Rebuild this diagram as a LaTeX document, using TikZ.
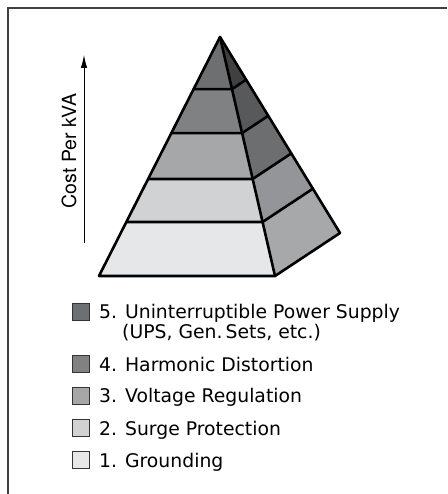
\documentclass[tikz,border=0pt]{standalone}
\usepackage{fontspec}
\setmainfont{TeX Gyre Heros}
\newfontfamily\keyfont{DejaVu Sans}
\usetikzlibrary{arrows.meta, positioning, calc}

\definecolor{tierfive}{RGB}{110,111,113}
\definecolor{tierfour}{RGB}{128,129,131}
\definecolor{tierthree}{RGB}{166,167,169}
\definecolor{tiertwo}{RGB}{209,210,212}
\definecolor{tierone}{RGB}{230,231,232}
\definecolor{sidefive}{RGB}{64,64,65}
\definecolor{sidefour}{RGB}{88,89,91}
\definecolor{sidethree}{RGB}{109,110,112}
\definecolor{sidetwo}{RGB}{147,149,152}
\definecolor{sideone}{RGB}{166,168,170}

\begin{document}
\begin{tikzpicture}[
    x=1pt, y=-1pt,
    pedge/.style={line width=2.6pt, line join=round, line cap=round},
    keybox/.style={draw=black!80, line width=0.9pt, minimum size=17pt, inner sep=0pt, anchor=south west},
    keytext/.style={font=\keyfont\fontsize{18.8}{21}\selectfont, anchor=base west, inner sep=0pt},
    costarrow/.style={-{Latex[length=13pt, width=6.5pt]}, line width=0.9pt}
]
\useasboundingbox (0,0) rectangle (447,494);
\draw[line width=2pt, black!75] (8,494) -- (8,8) -- (447,8);

% pyramid corners
\coordinate (apex) at (220,37);
\coordinate (fl) at (99,276);
\coordinate (fr) at (275,276);
\coordinate (bk) at (340,233);

% tiers, top to bottom
\foreach \a/\b/\fc/\sc in {0/0.218/tierfive/sidefive, 0.218/0.402/tierfour/sidefour,
    0.402/0.594/tierthree/sidethree, 0.594/0.774/tiertwo/sidetwo, 0.774/1/tierone/sideone} {
  \fill[\fc] ($(apex)!\a!(fl)$) -- ($(apex)!\b!(fl)$) -- ($(apex)!\b!(fr)$) -- ($(apex)!\a!(fr)$) -- cycle;
  \fill[\sc] ($(apex)!\a!(fr)$) -- ($(apex)!\b!(fr)$) -- ($(apex)!\b!(bk)$) -- ($(apex)!\a!(bk)$) -- cycle;
}
\foreach \t in {0.218, 0.402, 0.594, 0.774} {
  \draw[pedge] ($(apex)!\t!(fl)$) -- ($(apex)!\t!(fr)$) -- ($(apex)!\t!(bk)$);
}
\draw[pedge] (apex) -- (fl) -- (fr) -- (bk) -- cycle;
\draw[pedge] (apex) -- (fr);

% cost axis
\coordinate (costlow) at (84,243);
\coordinate (costhigh) at (84,55);
\draw[costarrow] (costlow) -- (costhigh);
\node[rotate=90, anchor=base, inner sep=0pt, font=\fontsize{19.5}{22}\selectfont] (cost) at (76,151) {Cost Per kVA};

% legend
\node[keybox, fill=tierfive] (b5) at (72,321) {};
\node[keybox, fill=tierfour] (b4) at (72,373) {};
\node[keybox, fill=tierthree] (b3) at (72,405) {};
\node[keybox, fill=tiertwo] (b2) at (72,437) {};
\node[keybox, fill=tierone] (b1) at (72,469) {};
\node[keytext] (k5) at (99,318) {5. Uninterruptible Power Supply};
\node[keytext] (k5b) at (122,338) {(UPS, Gen.\,Sets, etc.)};
\node[keytext] (k4) at (99,371) {4. Harmonic Distortion};
\node[keytext] (k3) at (99,402) {3. Voltage Regulation};
\node[keytext] (k2) at (99,435) {2. Surge Protection};
\node[keytext] (k1) at (99,467) {1. Grounding};
\end{tikzpicture}
\end{document}
